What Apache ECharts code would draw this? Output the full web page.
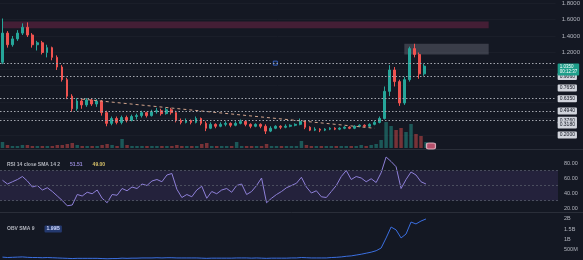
<!DOCTYPE html>
<html><head><meta charset="utf-8">
<script src="https://cdn.jsdelivr.net/npm/echarts@6.0.0/dist/echarts.min.js"></script>
<style>html,body{margin:0;padding:0;background:#141823;overflow:hidden}#c{width:583px;height:260px}</style>
</head><body><div id="c"></div><script>
// OHLC as [open, close, low, high]
const candles = [
[1.082,1.435,1.059,1.612],[1.435,1.294,1.259,1.459],[1.294,1.365,1.271,1.400],[1.365,1.435,1.341,1.471],
[1.435,1.506,1.412,1.553],[1.506,1.412,1.388,1.565],[1.412,1.294,1.259,1.435],[1.294,1.318,1.224,1.341],
[1.318,1.200,1.176,1.341],[1.200,1.259,1.141,1.294],[1.259,1.141,1.106,1.271],[1.141,1.024,0.988,1.165],
[1.024,0.871,0.847,1.047],[0.871,0.671,0.635,0.894],[0.671,0.518,0.482,0.694],[0.518,0.612,0.494,0.647],
[0.612,0.565,0.518,0.635],[0.565,0.624,0.541,0.647],[0.624,0.576,0.553,0.647],[0.576,0.612,0.541,0.635],
[0.612,0.471,0.435,0.624],[0.471,0.341,0.306,0.494],[0.341,0.400,0.318,0.424],[0.400,0.353,0.329,0.424],
[0.353,0.412,0.329,0.435],[0.412,0.376,0.353,0.435],[0.376,0.424,0.365,0.447],[0.424,0.435,0.388,0.459],
[0.435,0.471,0.412,0.494],[0.471,0.435,0.412,0.482],[0.435,0.482,0.424,0.506],[0.482,0.494,0.459,0.529],
[0.494,0.459,0.435,0.518],[0.459,0.506,0.447,0.529],[0.506,0.471,0.447,0.529],[0.471,0.376,0.353,0.494],
[0.376,0.353,0.329,0.400],[0.353,0.376,0.341,0.400],[0.376,0.353,0.329,0.388],[0.353,0.400,0.341,0.424],
[0.400,0.341,0.318,0.412],[0.341,0.282,0.247,0.365],[0.282,0.329,0.271,0.353],[0.329,0.306,0.282,0.341],
[0.306,0.329,0.294,0.353],[0.329,0.341,0.306,0.365],[0.341,0.318,0.294,0.353],[0.318,0.341,0.306,0.365],
[0.341,0.365,0.329,0.388],[0.365,0.329,0.306,0.376],[0.329,0.306,0.282,0.341],[0.306,0.329,0.294,0.341],
[0.329,0.306,0.282,0.341],[0.306,0.247,0.212,0.329],[0.247,0.282,0.235,0.306],[0.282,0.306,0.271,0.318],
[0.306,0.294,0.271,0.318],[0.294,0.306,0.282,0.329],[0.306,0.318,0.294,0.329],[0.318,0.329,0.306,0.341],
[0.329,0.365,0.318,0.400],[0.365,0.294,0.271,0.376],[0.294,0.259,0.247,0.306],[0.259,0.271,0.247,0.294],
[0.271,0.259,0.235,0.282],[0.259,0.271,0.247,0.282],[0.271,0.282,0.259,0.294],[0.282,0.271,0.259,0.294],
[0.271,0.282,0.259,0.294],[0.282,0.294,0.271,0.306],[0.294,0.282,0.271,0.306],[0.282,0.306,0.271,0.318],
[0.306,0.318,0.294,0.329],[0.318,0.306,0.294,0.329],[0.306,0.329,0.294,0.341],[0.329,0.353,0.318,0.376],
[0.353,0.400,0.341,0.424],[0.400,0.729,0.388,0.788],[0.729,0.988,0.671,1.047],[0.988,0.847,0.788,1.024],
[0.847,0.588,0.553,0.871],[0.588,0.871,0.565,0.906],[0.871,1.247,0.847,1.271],[1.247,1.176,1.141,1.306],
[1.176,0.941,0.882,1.200],[0.941,1.035,0.918,1.059]
];
const volumes = [
6,3,2,2,3,3,2,2,2,2, 2,3,3,4,5,3,2,2,2,2, 3,4,3,2,9,3,2,2,2,2, 2,2,2,2,2,3,2,2,2,2,
4,5,2,2,2,2,2,6,2,2, 2,2,2,4,2,2,2,2,2,2, 7,3,2,2,2,2,2,2,2,2, 2,2,3,2,3,4,8,26,22,18,
20,16,24,14,12,6
];
const rsi = [
57,52,55,58,62,56,48,50,44,47, 42,36,30,23,24,38,36,41,39,44, 33,27,38,37,46,43,48,46,52,50,
56,58,55,64,66,45,34,38,35,44, 49,33,42,39,44,46,41,50,52,38, 42,50,60,27,33,38,42,47,50,53,
61,48,40,43,35,34,42,50,62,70, 58,62,60,55,59,54,67,88,82,75, 46,58,68,64,55,52
];
const obv = [
0.14,0.12,0.13,0.14,0.15,0.13,0.12,0.12,0.11,0.12, 0.11,0.10,0.09,0.08,0.07,0.08,0.08,0.08,0.08,0.08,
0.07,0.06,0.07,0.07,0.09,0.08,0.09,0.09,0.10,0.10, 0.10,0.11,0.10,0.11,0.11,0.10,0.10,0.10,0.10,0.10,
0.09,0.08,0.09,0.09,0.09,0.09,0.09,0.10,0.10,0.10, 0.09,0.10,0.09,0.08,0.09,0.09,0.09,0.09,0.10,0.10,
0.12,0.11,0.10,0.10,0.10,0.10,0.12,0.13,0.15,0.18, 0.20,0.24,0.28,0.33,0.38,0.45,0.58,1.07,1.60,1.46,
1.07,1.26,1.84,1.75,1.89,1.99
];
const totalSlots = 112;
const priceLevels = [1.071, 0.906, 0.635, 0.494, 0.376];
const tagValues = [0.906, 0.765, 0.635, 0.494, 0.376, 0.318, 0.200];
const countdown = '00:12:37';
const trendLine = [[16, 0.635], [75, 0.282]];
const zones = [
  {from: 0, to: 98, top: 1.576, bottom: 1.494, kind: 'supply'},
  {from: 81, to: 98, top: 1.306, bottom: 1.176, kind: 'box'}
];
const alertMarks = [[55, 1.071]];
const eventMarks = [[86, 2]];
const rsiLegend = {name: 'RSI 14 close SMA 14 2', v1: '51.51', v2: '49.00'};
const obvLegend = {name: 'OBV SMA 9', v1: '1.99B'};

const slots = Array.from({length: totalSlots}, (_, i) => String(i));
const lastClose = candles[candles.length - 1][1];
const UP = '#26a69a', DOWN = '#ef5350';
const GRID = {left: 0, right: 25};
const lblColor = '#b2b5be';
const FONT = 'Liberation Sans, Arial, sans-serif';
const CLEAR = 'rgba(0,0,0,0)';

const markLineData = [];
priceLevels.forEach(v => markLineData.push({yAxis: v, lineStyle: {color: '#a3a6af', type: [1.5, 2], width: 1}, label: {show: false}}));
tagValues.forEach(v => markLineData.push({yAxis: v, lineStyle: {color: CLEAR, width: 1}, label: {
  show: true, position: 'end', distance: 2, formatter: v.toFixed(4), fontSize: 5, fontFamily: FONT,
  color: '#131722', backgroundColor: '#d1d4dc', padding: [1, 2, 1, 2], borderRadius: 1}}));
markLineData.push({yAxis: lastClose, lineStyle: {color: CLEAR, width: 1}, label: {
  show: true, position: 'end', distance: 2, offset: [0, 3], formatter: lastClose.toFixed(4) + '\n' + countdown, fontSize: 4.5, lineHeight: 5,
  fontFamily: FONT, color: '#ffffff', backgroundColor: '#1e9e8a', padding: [1, 2, 1, 2], borderRadius: 1}});

const zoneColors = {supply: 'rgba(140,40,80,0.40)', box: 'rgba(130,133,145,0.35)'};
const markAreaData = zones.map(z => [
  {xAxis: z.from, yAxis: z.top, itemStyle: {color: zoneColors[z.kind]}},
  {xAxis: z.to, yAxis: z.bottom}
]);

const volData = volumes.map((v, i) => ({value: v, itemStyle: {color: candles[i][1] >= candles[i][0] ? 'rgba(38,166,154,0.45)' : 'rgba(239,83,80,0.45)'}}));

const xAx = idx => ({type: 'category', data: slots, gridIndex: idx, show: false, boundaryGap: true});
const chart = echarts.init(document.getElementById('c'), null, {renderer: 'canvas'});
chart.setOption({
  animation: false,
  backgroundColor: '#141823',
  textStyle: {fontFamily: FONT},
  grid: [
    Object.assign({top: -1, height: 136}, GRID),
    Object.assign({top: 118, height: 30}, GRID),
    Object.assign({top: 148, height: 60}, GRID),
    Object.assign({top: 213, height: 47}, GRID)
  ],
  title: [
    {left: 2, top: 151, text: '{n|' + rsiLegend.name + '}  {a|' + rsiLegend.v1 + '}  {b|' + rsiLegend.v2 + '}',
     textStyle: {rich: {n: {fontSize: 5, color: '#b2b5be'}, a: {fontSize: 5, color: '#9c8fe0'}, b: {fontSize: 5, color: '#d9c36a'}}}},
    {left: 2, top: 215, text: '{n|' + obvLegend.name + '}  {a|' + obvLegend.v1 + '}',
     textStyle: {rich: {n: {fontSize: 5, color: '#b2b5be'}, a: {fontSize: 5, color: '#cfd8ff', backgroundColor: '#24396f', padding: [1, 2], borderRadius: 1}}}}
  ],
  xAxis: [xAx(0), xAx(1), xAx(2), xAx(3)],
  yAxis: [
    {gridIndex: 0, type: 'value', position: 'right', min: 0.2, max: 1.8, interval: 0.2,
     axisLine: {show: false}, axisTick: {show: false},
     splitLine: {show: true, lineStyle: {color: '#1a1e29'}},
     axisLabel: {fontSize: 6, color: lblColor, margin: 6, formatter: v => v >= 1.1 ? v.toFixed(4) : ''}},
    {gridIndex: 1, type: 'value', min: 0, max: 30, show: false},
    {gridIndex: 2, type: 'value', position: 'right', min: 20, max: 100, interval: 20,
     axisLine: {show: false}, axisTick: {show: false}, splitLine: {show: false},
     axisLabel: {fontSize: 5.5, color: lblColor, margin: 6, formatter: v => v < 100 ? v.toFixed(2) : ''}},
    {gridIndex: 3, type: 'value', position: 'right', min: 0, max: 2.28, interval: 0.5,
     axisLine: {show: false}, axisTick: {show: false}, splitLine: {show: false},
     axisLabel: {fontSize: 5.5, color: lblColor, margin: 6, showMinLabel: false, showMaxLabel: false,
       formatter: v => v === 0 ? '' : (v >= 1 ? (+v.toFixed(1)) + 'B' : Math.round(v * 1000) + 'M')}}
  ],
  series: [
    {type: 'candlestick', xAxisIndex: 0, yAxisIndex: 0, data: candles, barWidth: '45%',
     itemStyle: {color: UP, color0: DOWN, borderColor: UP, borderColor0: DOWN, borderWidth: 1},
     markLine: {silent: true, symbol: ['none', 'none'], animation: false, data: markLineData},
     markArea: {silent: true, data: markAreaData}},
    {type: 'line', xAxisIndex: 0, yAxisIndex: 0, data: trendLine, symbol: 'none',
     lineStyle: {color: '#d2a48c', width: 1, type: [3, 3]}},
    {type: 'scatter', xAxisIndex: 0, yAxisIndex: 0, data: alertMarks, symbol: 'rect', symbolSize: 4,
     itemStyle: {color: CLEAR, borderColor: '#3b6fe0', borderWidth: 1}},
    {type: 'bar', xAxisIndex: 1, yAxisIndex: 1, data: volData, barWidth: '70%'},
    {type: 'scatter', xAxisIndex: 1, yAxisIndex: 1, data: eventMarks, symbol: 'roundRect', symbolSize: [9, 6],
     itemStyle: {color: '#e0607e', borderColor: '#f5c6d3', borderWidth: 1}},
    {type: 'line', xAxisIndex: 2, yAxisIndex: 2, data: rsi, symbol: 'none',
     lineStyle: {color: '#8e80d8', width: 1},
     markArea: {silent: true, itemStyle: {color: 'rgba(126,87,194,0.16)'}, data: [[{yAxis: 30}, {yAxis: 70}]]},
     markLine: {silent: true, symbol: ['none', 'none'], label: {show: false},
       lineStyle: {color: '#4a4e5e', type: [2, 2], width: 1}, data: [{yAxis: 70}, {yAxis: 50}, {yAxis: 30}]}},
    {type: 'line', xAxisIndex: 3, yAxisIndex: 3, data: obv, symbol: 'none',
     lineStyle: {color: '#3b6fe0', width: 1}}
  ],
  graphic: [
    {type: 'line', shape: {x1: 0, y1: 149.5, x2: 583, y2: 149.5}, style: {stroke: '#2a2e39', lineWidth: 1}, silent: true},
    {type: 'line', shape: {x1: 0, y1: 212.5, x2: 583, y2: 212.5}, style: {stroke: '#2a2e39', lineWidth: 1}, silent: true}
  ]
});
</script></body></html>
